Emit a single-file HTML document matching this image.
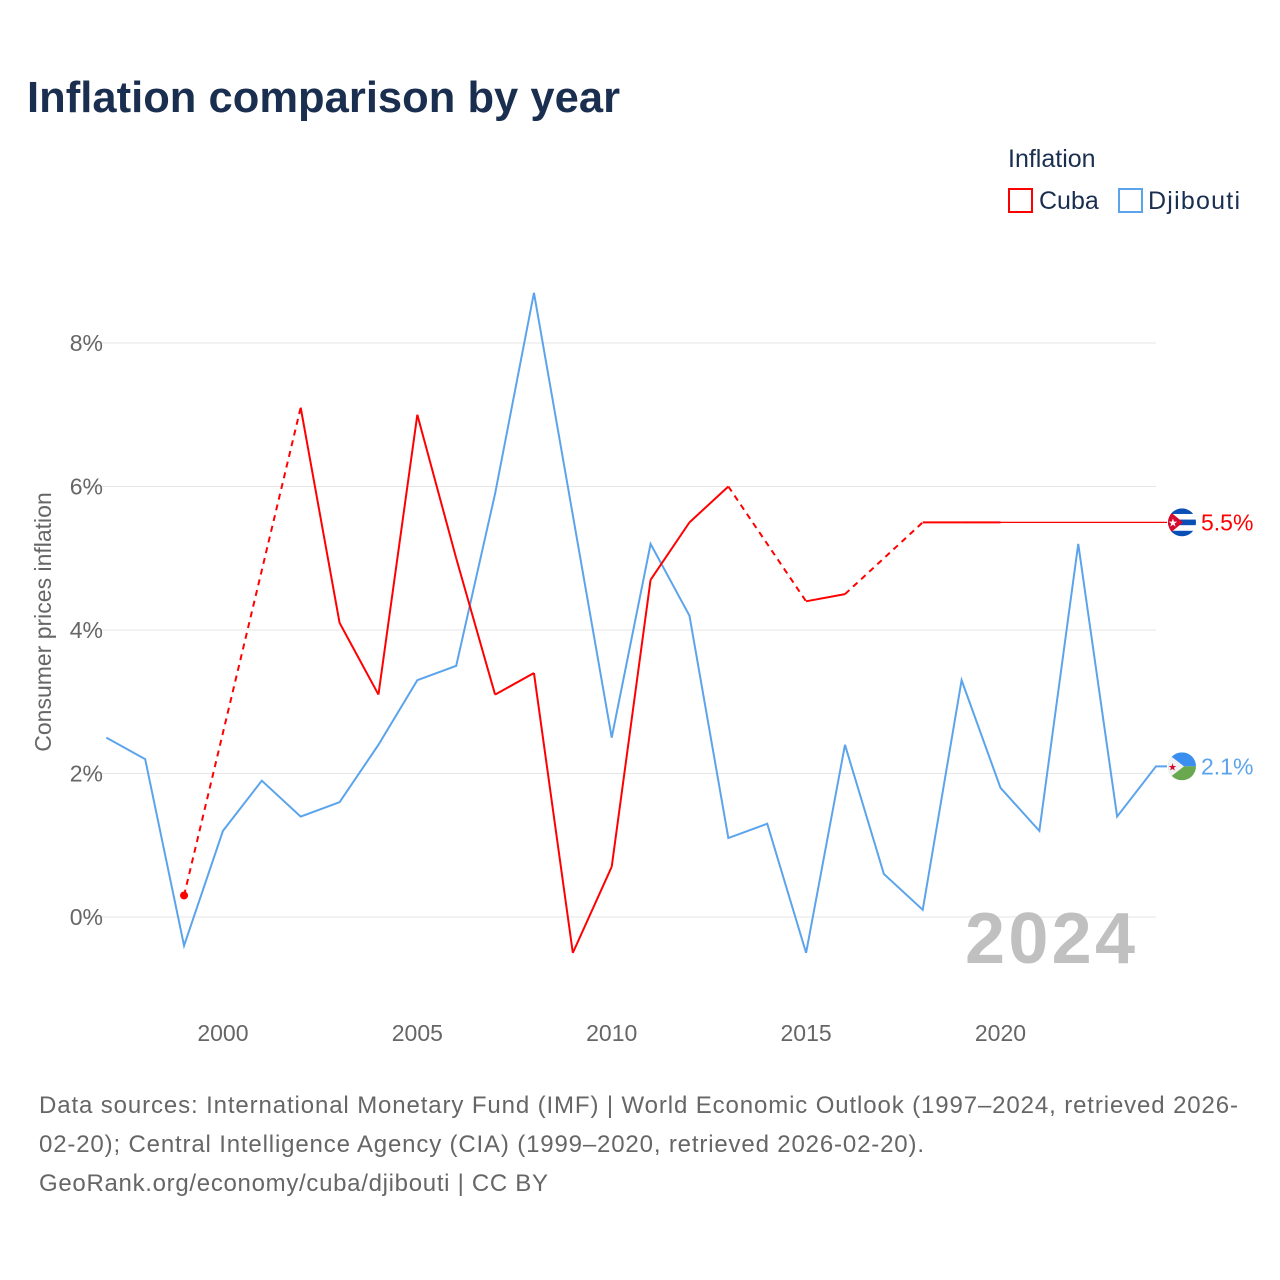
<!DOCTYPE html>
<html><head><meta charset="utf-8">
<style>
body{margin:0;background:#fff;font-family:"Liberation Sans",sans-serif;}
#wrap{position:relative;width:1280px;height:1280px;overflow:hidden;background:#fff}
</style></head>
<body>
<div id="wrap">
<svg id="chart" width="1280" height="1280" xmlns="http://www.w3.org/2000/svg">
<defs>
<clipPath id="c1"><circle id="c1c" cx="1182" cy="0" r="14"/></clipPath>
<clipPath id="c2"><circle id="c2c" cx="1182" cy="0" r="14"/></clipPath>
</defs>
<text x="27" y="112" font-size="43.5" font-weight="bold" fill="#1a2e4f" textLength="593" font-family="Liberation Sans, sans-serif">Inflation comparison by year</text>
<text x="1008" y="167" font-size="25" fill="#1a2e4f">Inflation</text>
<g><rect x="1009" y="189" width="23" height="23" fill="none" stroke="#ff0000" stroke-width="2"/><text x="1039" y="209" font-size="25" fill="#1a2e4f">Cuba</text></g>
<g><rect x="1119" y="189" width="23" height="23" fill="none" stroke="#5ba4ec" stroke-width="2"/><text x="1148" y="209" font-size="25" fill="#1a2e4f" textLength="92">Djibouti</text></g>
<text transform="translate(51,622) rotate(-90)" text-anchor="middle" font-size="23" fill="#666">Consumer prices inflation</text>
<g id="grid"></g><g id="series"></g>
<text x="1135" y="963" text-anchor="end" font-size="72" font-weight="bold" fill="#c0c0c0" textLength="170">2024</text>
<g font-size="24" fill="#666">
<text x="39" y="1113" textLength="1199">Data sources: International Monetary Fund (IMF) | World Economic Outlook (1997–2024, retrieved 2026-</text>
<text x="39" y="1152" textLength="885">02-20); Central Intelligence Agency (CIA) (1999–2020, retrieved 2026-02-20).</text>
<text x="39" y="1191" textLength="509">GeoRank.org/economy/cuba/djibouti | CC BY</text>
</g>
</svg>
</div>
<script>
const years=[1997,1998,1999,2000,2001,2002,2003,2004,2005,2006,2007,2008,2009,2010,2011,2012,2013,2014,2015,2016,2017,2018,2019,2020,2021,2022,2023,2024];
const djibouti=[2.5,2.2,-0.4,1.2,1.9,1.4,1.6,2.4,3.3,3.5,5.9,8.7,5.6,2.5,5.2,4.2,1.1,1.3,-0.5,2.4,0.6,0.1,3.3,1.8,1.2,5.2,1.4,2.1];
const cuba=[null,null,0.3,null,null,7.1,4.1,3.1,7.0,5.0,3.1,3.4,-0.5,0.7,4.7,5.5,6.0,null,4.4,4.5,null,5.5,5.5,5.5,null,null,null,null];
const yTicks=[0,2,4,6,8];
const xTicks=[2000,2005,2010,2015,2020];
const cubaLatest=5.5;
const NS="http://www.w3.org/2000/svg";
const X=y=>106.3+(y-1997)*(1156-106.3)/27;
const Y=v=>917-v*71.75;
function mk(t,a,p){const e=document.createElementNS(NS,t);for(const k in a)e.setAttribute(k,a[k]);p.appendChild(e);return e;}
const grid=document.getElementById('grid'),ser=document.getElementById('series');
yTicks.forEach(t=>{
 const l=mk('line',{x1:82,x2:1156,y1:Y(t),y2:Y(t),stroke:'#e6e6e6','stroke-width':1},grid);
 
 
 const tx=mk('text',{x:103,y:Y(t)+8,'text-anchor':'end','font-size':23,fill:'#666'},grid);tx.textContent=t+'%';
 
 
});
xTicks.forEach(t=>{
 const tx=mk('text',{x:X(t),y:1041,'text-anchor':'middle','font-size':23,fill:'#666'},grid);tx.textContent=t;
 
 
});
let d='';years.forEach((y,i)=>{d+=(i?'L':'M')+X(y)+','+Y(djibouti[i]);});
d+='L1167,'+Y(djibouti[djibouti.length-1]);
const dj=mk('path',{d:d,fill:'none',stroke:'#5ba4ec','stroke-width':2},ser);


const pts=[];years.forEach((y,i)=>{if(cuba[i]!==null)pts.push([y,cuba[i]]);});
for(let i=1;i<pts.length;i++){
 const a=pts[i-1],b=pts[i],gap=b[0]-a[0]>1;
 const s=mk('line',{x1:X(a[0]),y1:Y(a[1]),x2:X(b[0]),y2:Y(b[1]),stroke:'#ff0000','stroke-width':2},ser);
 if(gap)s.setAttribute('stroke-dasharray','6,5');
 
 
}
const last=pts[pts.length-1];
const ext=mk('line',{x1:X(last[0]),y1:Y(last[1]),x2:1167,y2:Y(cubaLatest),stroke:'#ff0000','stroke-width':1.3},ser);


const dot=mk('circle',{cx:X(pts[0][0]),cy:Y(pts[0][1]),r:4,fill:'#ff0000'},ser);


const cy=Y(cubaLatest),dy=Y(djibouti[djibouti.length-1]);
document.getElementById('c1c').setAttribute('cy',cy);
document.getElementById('c2c').setAttribute('cy',dy);
const fc=mk('g',{'clip-path':'url(#c1)'},ser);


mk('rect',{x:1168,y:cy-14,width:28,height:28,fill:'#fff'},fc);
[0,2,4].forEach(k=>mk('rect',{x:1168,y:cy-14+k*5.6,width:28,height:5.6,fill:'#0a4fb5'},fc));
mk('polygon',{points:`1166,${cy-14} 1183,${cy} 1166,${cy+14}`,fill:'#d60a2e'},fc);
mk('text',{x:1168,y:cy+4,'font-size':11,fill:'#fff'},fc).textContent='★';
const lc=mk('text',{x:1201,y:cy+8,'font-size':23,fill:'#ff0000'},ser);lc.textContent=cubaLatest.toFixed(1)+'%';


const fd=mk('g',{'clip-path':'url(#c2)'},ser);


mk('rect',{x:1168,y:dy-14,width:28,height:14,fill:'#3a8ef0'},fd);
mk('rect',{x:1168,y:dy,width:28,height:14,fill:'#6aa84f'},fd);
mk('polygon',{points:`1166,${dy-14} 1184,${dy} 1166,${dy+14}`,fill:'#f2f2f2'},fd);
mk('text',{x:1168,y:dy+4,'font-size':10,fill:'#d60a2e'},fd).textContent='★';
const ld=mk('text',{x:1201,y:dy+8,'font-size':23,fill:'#5ba4ec'},ser);ld.textContent=djibouti[djibouti.length-1].toFixed(1)+'%';


</script>
</body></html>
